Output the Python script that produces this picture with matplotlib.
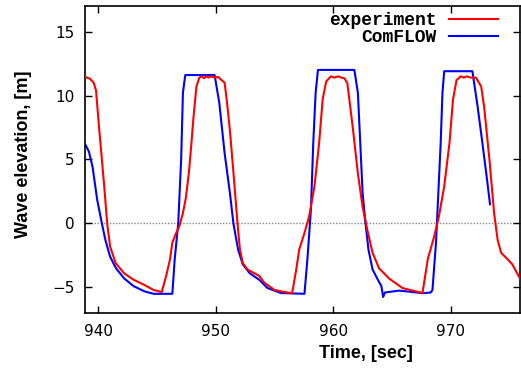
import matplotlib
matplotlib.use('Agg')
import matplotlib.pyplot as plt

# experiment (red)
t_exp = [938.9, 939.3, 939.6, 939.8, 940.05, 940.5, 940.75, 941.0, 941.47, 942.2,
         943.0, 943.9, 944.7, 945.4, 945.8, 946.1, 946.3, 946.6, 946.9, 947.2,
         947.45, 947.7, 947.9, 948.1, 948.35, 948.6, 948.8, 949.0, 949.2, 949.4,
         949.6, 949.9, 950.2, 950.5, 950.75, 950.95, 951.2, 951.5, 951.85, 952.05,
         952.3, 952.7, 953.3, 953.7, 954.15, 955.0, 955.85, 956.5, 956.85, 957.1,
         957.55, 957.95, 958.4, 958.8, 959.1, 959.4, 959.8, 960.1, 960.4, 960.7,
         960.95, 961.2, 961.65, 962.1, 962.5, 962.9, 963.35, 963.9, 964.75, 965.9,
         967.0, 967.6, 968.05, 968.6, 969.0, 969.45, 969.9, 970.2, 970.5, 970.85,
         971.1, 971.4, 971.7, 972.15, 972.6, 972.85, 973.3, 973.7, 974.0, 974.3,
         974.85, 975.25, 975.9]
y_exp = [11.45, 11.3, 11.0, 10.4, 7.6, 2.9, 0.0, -1.8, -3.1, -3.9,
         -4.4, -4.8, -5.2, -5.36, -4.0, -2.8, -1.5, -0.8, -0.2, 0.8,
         2.0, 3.9, 6.0, 8.3, 10.7, 11.4, 11.5, 11.35, 11.5, 11.4,
         11.5, 11.4, 11.45, 11.2, 11.0, 9.5, 7.3, 4.0, 0.0, -2.0,
         -3.1, -3.6, -3.9, -4.1, -4.65, -5.2, -5.36, -5.45, -3.6, -2.05,
         -0.75, 0.55, 2.9, 6.3, 9.7, 11.1, 11.5, 11.4, 11.5, 11.4,
         11.35, 10.97, 7.6, 3.9, 1.3, -0.5, -2.3, -3.5, -4.3, -5.05,
         -5.3, -5.44, -2.8, -1.0, 0.55, 2.9, 6.3, 9.7, 11.2, 11.5,
         11.4, 11.5, 11.4, 11.4, 10.7, 9.1, 5.0, 0.8, -1.3, -2.3,
         -2.8, -3.2, -4.3]

# ComFLOW (blue)
t_cf = [938.9, 939.2, 939.5, 939.9, 940.3, 940.6, 941.0, 941.5, 942.2, 943.0,
        943.9, 944.7, 946.3, 946.5, 946.8, 947.05, 947.2, 947.4, 949.9, 950.3,
        950.75, 951.2, 951.5, 951.9, 952.3, 952.9, 953.7, 954.4, 955.55, 957.55,
        957.8, 958.1, 958.3, 958.5, 958.7, 961.8, 962.1, 962.3, 962.5, 962.75,
        963.0, 963.35, 963.8, 964.1, 964.25, 964.4, 965.6, 966.75, 967.6, 968.3,
        968.45, 968.75, 968.95, 969.15, 969.3, 969.45, 971.85, 972.3, 972.7, 973.1,
        973.35]
y_cf = [6.15, 5.6, 4.45, 1.85, 0.0, -1.3, -2.6, -3.5, -4.3, -4.9,
        -5.3, -5.5, -5.5, -2.8, 0.0, 5.0, 10.2, 11.6, 11.6, 9.4,
        5.5, 2.4, 0.0, -2.05, -3.2, -3.9, -4.4, -5.05, -5.44, -5.5,
        -2.8, 1.1, 6.3, 10.2, 12.0, 12.0, 10.2, 6.3, 2.4, 0.0,
        -2.05, -3.6, -4.4, -4.9, -5.75, -5.4, -5.25, -5.36, -5.45, -5.4,
        -5.2, -1.5, 2.4, 6.3, 10.2, 11.9, 11.9, 9.1, 6.3, 3.4,
        1.5]

xticks = [940, 950, 960, 970]
yticks = [-5, 0, 5, 10, 15]

fig = plt.figure(figsize=(5.21, 3.72), dpi=100)
ax = fig.add_axes([0.164, 0.1586, 0.834, 0.8254])

ax.axhline(0, color='#888888', lw=1.0, ls=(0, (1, 1.2)), zorder=1)
ax.plot(t_exp, y_exp, color='#ff0000', lw=1.5, label='experiment', zorder=3)
ax.plot(t_cf, y_cf, color='#0000ff', lw=1.5, label='ComFLOW', zorder=2)

ax.set_xlim(938.9, 975.9)
ax.set_ylim(-7, 17)
ax.set_xticks(xticks)
ax.set_yticks(yticks)
ax.tick_params(direction='in', length=5, width=1, top=True, right=True,
               labelsize=11, pad=8)
for s in ax.spines.values():
    s.set_linewidth(1.2)

ax.set_xlabel('Time, [sec]', family='Liberation Sans', weight='bold', fontsize=13)
ax.set_ylabel('Wave elevation, [m]', family='Liberation Sans', weight='bold', fontsize=13)
ax.xaxis.set_label_coords(0.645, -0.104)
ax.yaxis.set_label_coords(-0.123, 0.518)

leg = ax.legend(loc='upper right', bbox_to_anchor=(0.95, 0.98), markerfirst=False,
                frameon=False, borderpad=0, borderaxespad=0, handlelength=2.7,
                handletextpad=0.7, labelspacing=0.0,
                prop={'family': 'Liberation Mono', 'weight': 'bold', 'size': 13})
for txt in leg.get_texts():
    txt.set_ha('right')

fig.savefig('out.png', dpi=100)
